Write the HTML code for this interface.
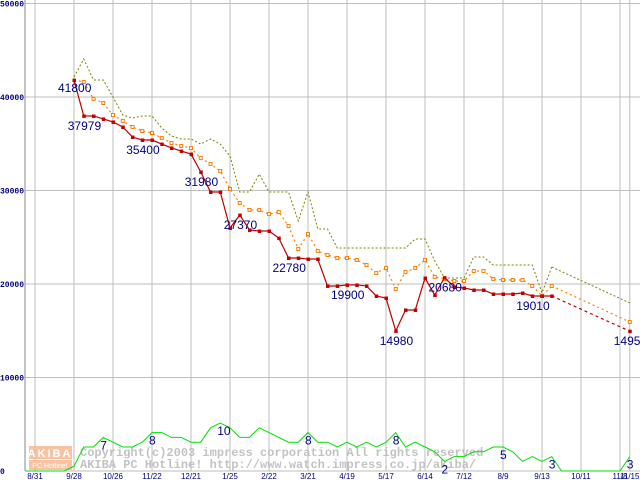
<!DOCTYPE html>
<html><head><meta charset="utf-8"><style>
body{margin:0;background:#fff;}
svg{display:block;font-family:"Liberation Sans",sans-serif;}
</style></head><body>
<svg id="chart" width="640" height="480" xmlns="http://www.w3.org/2000/svg">
<g id="grid"></g>
<g id="wm">
<rect x="29" y="446" width="43" height="13" fill="#f8b890" opacity="0.85"/>
<text x="50" y="457" font-size="11" font-weight="bold" fill="#fff" text-anchor="middle" letter-spacing="2">AKIBA</text>
<rect x="29" y="460" width="43" height="10" fill="#f8b890" opacity="0.85"/>
<text x="50" y="468" font-size="7" fill="#fff" text-anchor="middle">PC Hotline!</text>
<text x="80" y="456" font-family="Liberation Mono, monospace" font-size="12" font-weight="bold" fill="#b8b8b8" opacity="0.85">Copyright(c)2003 impress corporation All rights reserved</text>
<text x="80" y="468" font-family="Liberation Mono, monospace" font-size="12" font-weight="bold" fill="#b8b8b8" opacity="0.85">AKIBA PC Hotline!  http://www.watch.impress.co.jp/akiba/</text>
</g>
<g id="series"></g>
<g id="labels"></g>
</svg>
<script>
const xTicks=["8/31","9/28","10/26","11/22","12/21","1/25","2/22","3/21","4/19","5/17","6/14","7/12","8/9","9/13","10/11","11/8","11/15"];
const xTickWeeks=[-4,0,4,8,12,16,20,24,28,32,36,40,44,48,52,56,57];
const yTicks=[0,10000,20000,30000,40000,50000];
const minPrice=[41800,37979,37970,37650,37330,36790,35720,35400,35400,34970,34550,34220,33900,31980,29840,29840,25990,27370,25780,25670,25670,24920,22780,22780,22670,22670,19790,19790,19900,19900,19790,18720,18500,14980,17220,17220,20640,18820,20680,19680,19570,19360,19360,18930,18930,18930,19040,18720,18720,18720];
const minLast=14950;
const avgPrice=[41820,41600,39790,39360,38070,37440,36790,36360,36150,35610,35080,34760,34540,33470,32830,32080,30160,28660,27910,27910,27480,27700,26200,23740,25350,23530,23100,22780,22780,22570,22030,21180,21710,19470,21280,21710,22570,20750,20530,20320,20320,21390,21390,20530,20430,20430,20430,19790,18720,19790];
const avgLast=15940;
const maxPrice=[42140,44060,41820,41820,40000,38070,37750,37970,37970,36680,35830,35510,35510,34970,35510,34970,33690,29840,29840,31760,29840,29840,29840,26740,29840,25880,25880,23850,23850,23850,23850,23850,23850,23850,23850,24810,24810,22460,20640,20640,20640,22890,22890,22030,22030,22030,22030,22030,19040,21820];
const maxLast=17970;
const countWeeks=[-5,-1,0,1,2,3,4,5,6,7,8,9,10,11,12,13,14,15,16,17,18,19,20,21,22,23,24,25,26,27,28,29,30,31,32,33,34,35,36,37,38,39,40,41,42,43,44,45,46,47,48,49,50,56,57];
const counts=[0,0,1,5,5,7,6,5,5,6,8,8,7,7,6,6,9,10,9,7,7,9,8,7,6,6,8,6,6,5,6,5,6,5,6,8,5,6,5,4,2,3,3,4,4,5,5,4,2,3,2,3,0,0,3];
const lastWeek=57;
const priceLabels=[[0,"41800"],[1,"37979"],[7,"35400"],[13,"31980"],[17,"27370"],[22,"22780"],[28,"19900"],[33,"14980"],[38,"20680"],[47,"19010"],[57,"14950"]];
const countLabels=[[3,"7"],[8,"8"],[15,"10"],[24,"8"],[33,"8"],[38,"2"],[44,"5"],[49,"3"],[57,"3"]];

const NS="http://www.w3.org/2000/svg";
const X=w=>74+w*9.75;
const Y=v=>471-v*0.00935;
const YC=c=>471-c*4.8;
function mk(tag,attrs,parent){const e=document.createElementNS(NS,tag);for(const k in attrs)e.setAttribute(k,attrs[k]);document.getElementById(parent).appendChild(e);return e;}

yTicks.forEach(v=>{
 const l=mk('line',{x1:25,x2:640,y1:Y(v),y2:Y(v),stroke:'#bdbdbd','stroke-width':1},'grid');
 
 
 const t=mk('text',{x:0,y:Y(v)+3,'font-size':8,'font-weight':'bold',fill:'#000080','font-family':'Liberation Mono, monospace'},'grid');
 t.textContent=v===0?"0":String(v);
 
 
});
xTickWeeks.forEach((w,i)=>{
 const l=mk('line',{x1:X(w),x2:X(w),y1:0,y2:471,stroke:'#bdbdbd','stroke-width':1},'grid');
 
 
 const t=mk('text',{x:X(w),y:479,'font-size':8,fill:'#000080','text-anchor':'middle'},'grid');
 t.textContent=xTicks[i];
 
 
});
const ax=mk('line',{x1:25,x2:25,y1:0,y2:471,stroke:'#888','stroke-width':1},'grid');



function pts(arr){return arr.map((v,i)=>X(i)+','+Y(v)).join(' ');}
let p=mk('polyline',{points:pts(maxPrice),fill:'none',stroke:'#808000','stroke-width':1,'stroke-dasharray':'2,2'},'series');


p=mk('polyline',{points:X(maxPrice.length-1)+','+Y(maxPrice[maxPrice.length-1])+' '+X(lastWeek)+','+Y(maxLast),fill:'none',stroke:'#808000','stroke-width':1,'stroke-dasharray':'2,2'},'series');


p=mk('polyline',{points:pts(avgPrice),fill:'none',stroke:'#ff8000','stroke-width':1.2,'stroke-dasharray':'2,3'},'series');


p=mk('polyline',{points:X(avgPrice.length-1)+','+Y(avgPrice[avgPrice.length-1])+' '+X(lastWeek)+','+Y(avgLast),fill:'none',stroke:'#ff8000','stroke-width':1.2,'stroke-dasharray':'2,3'},'series');


avgPrice.concat([avgLast]).forEach((v,i)=>{
 if(i===0)return;
 const w=i<avgPrice.length?i:lastWeek;
 const r=mk('rect',{x:X(w)-1.5,y:Y(v)-1.5,width:3,height:3,fill:'#fff',stroke:'#ff8000','stroke-width':1},'series');
 
 
});
p=mk('polyline',{points:pts(minPrice),fill:'none',stroke:'#c00000','stroke-width':1.2},'series');


p=mk('polyline',{points:X(minPrice.length-1)+','+Y(minPrice[minPrice.length-1])+' '+X(lastWeek)+','+Y(minLast),fill:'none',stroke:'#c00000','stroke-width':1.2,'stroke-dasharray':'3,3'},'series');


minPrice.concat([minLast]).forEach((v,i)=>{
 const w=i<minPrice.length?i:lastWeek;
 const r=mk('rect',{x:X(w)-1.5,y:Y(v)-1.5,width:3.5,height:3.5,fill:'#c00000'},'series');
 
 
});
p=mk('polyline',{points:countWeeks.map((w,i)=>X(w)+','+YC(counts[i])).join(' '),fill:'none',stroke:'#00e000','stroke-width':1},'series');



priceLabels.forEach(([w,t])=>{
 const v=w<minPrice.length?minPrice[w]:minLast;
 const e=mk('text',{x:X(w)-16,y:Y(v)+(w===0?12:14),'font-size':12,fill:'#000080'},'labels');
 e.textContent=t;
 
 
});
countLabels.forEach(([w,t])=>{
 const i=countWeeks.indexOf(w);
 const e=mk('text',{x:X(w)-3,y:YC(counts[i])+12,'font-size':12,fill:'#000080'},'labels');
 e.textContent=t;
 
 
});
</script>
</body></html>
